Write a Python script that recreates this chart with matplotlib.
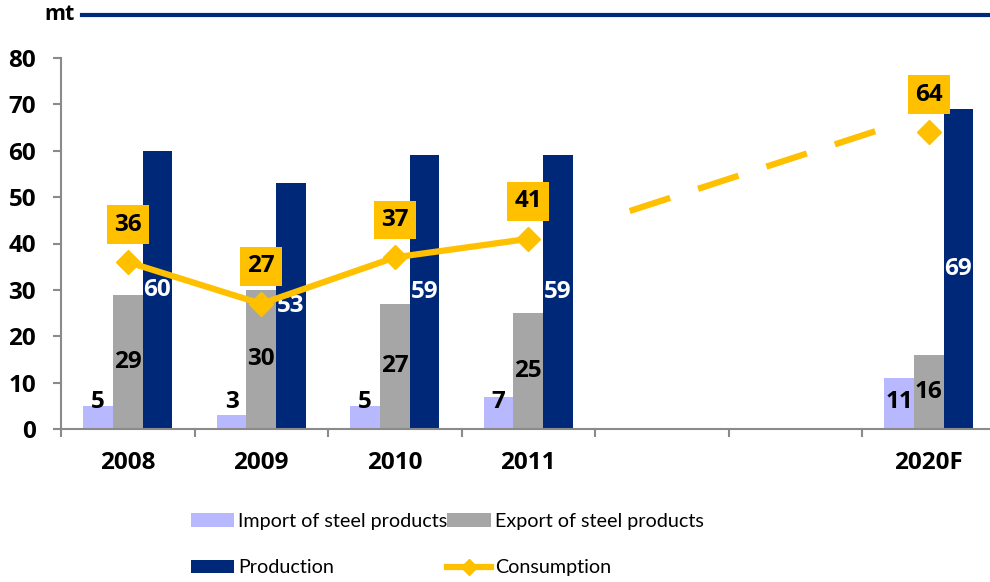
import numpy as np
import matplotlib
matplotlib.use('Agg')
import matplotlib.pyplot as plt
from matplotlib.lines import Line2D

plt.rcParams['font.family'] = ['Lato', 'DejaVu Sans']
BOLD = ['Open Sans', 'DejaVu Sans']

# data (mt)
years = ['2008', '2009', '2010', '2011', '', '', '2020F']
imports = [5, 3, 5, 7, None, None, 11]
exports = [29, 30, 27, 25, None, None, 16]
production = [60, 53, 59, 59, None, None, 69]
consumption = [36, 27, 37, 41]
consumption_2020 = 64
# dashed forecast trend (category units, mt)
trend_x = [3.76, 5.62]
trend_y = [47, 64.4]

NAVY = '#002878'
LILAC = '#B8B8FF'
GREY = '#A6A6A6'
GOLD = '#FFC000'
AXIS = '#8A8A8A'

fig = plt.figure(figsize=(9.9, 5.82), dpi=100)
ax = fig.add_axes([61 / 990, 153 / 582, 934.5 / 990, 371 / 582])

x = np.arange(len(years))
w = 0.222


def vals(arr):
    return [np.nan if v is None else v for v in arr]


b_imp = ax.bar(x - w, vals(imports), w, color=LILAC)
b_exp = ax.bar(x, vals(exports), w, color=GREY)
b_prod = ax.bar(x + w, vals(production), w, color=NAVY)

cx = x[:len(consumption)]
l_cons, = ax.plot(cx, consumption, color=GOLD, lw=4.5, marker='D', ms=12,
                  solid_joinstyle='miter', zorder=5)
ax.plot([x[-1]], [consumption_2020], color=GOLD, marker='D', ms=12,
        ls='none', zorder=5)
ax.plot(trend_x, trend_y, color=GOLD, lw=4.5, dashes=(6.8, 4.7),
        solid_capstyle='butt', dash_capstyle='butt', zorder=4)

lbl = dict(ha='center', va='center', fontsize=17.5, fontweight='bold', family=BOLD)
for i in range(len(years)):
    if imports[i] is None:
        continue
    ax.annotate(str(imports[i]), (x[i] - w, 0), xytext=(0, 19.5),
                textcoords='offset points', color='black', **lbl)
    ax.text(x[i], exports[i] / 2, str(exports[i]), color='black', **lbl)
    ax.text(x[i] + w, production[i] / 2, str(production[i]), color='white', **lbl)

for xi, v in list(zip(cx, consumption)) + [(x[-1], consumption_2020)]:
    ax.annotate(str(v), (xi, v), xytext=(0, 27), textcoords='offset points',
                bbox=dict(boxstyle='square,pad=0.3', fc=GOLD, ec='none'),
                color='black', zorder=6, **lbl)

ax.set_xlim(-0.5, 6.5)
ax.set_ylim(0, 80)
ax.set_yticks(range(0, 81, 10))
ax.set_xticks(x)
ax.set_xticklabels(years)
ax.set_xticks(np.arange(-0.5, 7, 1), minor=True)
ax.tick_params(axis='x', which='major', length=0, pad=16, labelsize=17.5)
ax.tick_params(axis='x', which='minor', length=6, width=1.5, color=AXIS)
ax.tick_params(axis='y', length=6, width=1.5, color=AXIS, pad=12, labelsize=17.5)
for t in ax.get_xticklabels() + ax.get_yticklabels():
    t.set_fontweight('bold')
    t.set_family(BOLD)
for s in ['top', 'right']:
    ax.spines[s].set_visible(False)
for s in ['left', 'bottom']:
    ax.spines[s].set_color(AXIS)
    ax.spines[s].set_linewidth(1.5)

# header
fig.text(44 / 990, 1 - 15 / 582, 'mt', ha='left', va='center',
         fontsize=15.5, fontweight='bold', family=BOLD)
fig.add_artist(Line2D([82 / 990, 1], [1 - 15 / 582] * 2, color='#00297A',
                      lw=3, transform=fig.transFigure))

fig.legend([b_imp, b_prod, b_exp, l_cons],
           ['Import of steel products', 'Production',
            'Export of steel products', 'Consumption'],
           ncol=2, loc='upper left', bbox_to_anchor=(183 / 990, 1 - 505 / 582),
           frameon=False, fontsize=14.2, handlelength=2.2, handleheight=0.7,
           handletextpad=0.2, columnspacing=0.0, labelspacing=1.5,
           markerscale=0.65, borderaxespad=0)

fig.savefig('out.png', dpi=100)
